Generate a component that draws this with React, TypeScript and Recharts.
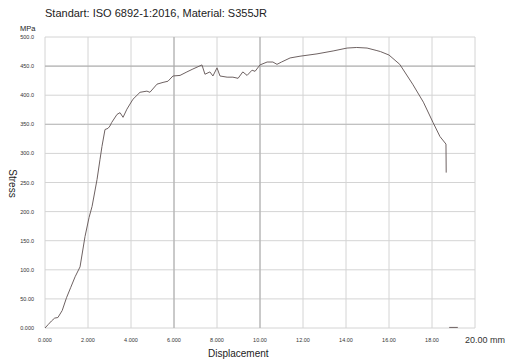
import { LineChart, Line, XAxis, YAxis, CartesianGrid, ReferenceLine } from 'recharts';

// displacement (mm) and stress (MPa)
const displacement = [
  0, 0.15, 0.3, 0.45, 0.6, 0.8, 1.0, 1.2, 1.4, 1.63, 1.86, 2.05, 2.19, 2.42, 2.56, 2.65, 2.79, 2.93,
  3.02, 3.1, 3.35, 3.49, 3.63, 3.81, 4.09, 4.42, 4.74, 4.88, 5.21, 5.49, 5.72, 5.95, 6.28,
  6.6, 6.88, 7.3, 7.44, 7.67, 7.81, 8.0, 8.14, 8.47, 8.74, 8.98, 9.2, 9.4, 9.63, 9.77,
  10.0, 10.33, 10.6, 10.79, 11.0, 11.4, 11.86, 12.65, 13.4, 14.05, 14.5, 14.98, 15.4, 15.6,
  16.0, 16.5, 17.1, 17.6, 18.05, 18.37, 18.65, 18.66, 18.7, 18.8, 19.2,
];
const stress: (number | null)[] = [
  0, 6, 12, 17, 18, 30, 52, 70, 88, 105, 157, 190, 209, 255, 290, 312, 341, 343,
  347, 353, 367, 370, 362, 376, 393, 405, 407, 405, 419, 422, 424, 433, 434,
  440, 445, 452, 436, 440, 433, 447, 433, 431, 431, 429, 440, 434, 443, 441,
  452, 457, 457, 453, 457, 464, 467, 471, 476, 481, 482, 481, 477, 475,
  469, 453, 419, 388, 353, 329, 316, 267, null, 1, 1,
];

const xTicks = [0, 2, 4, 6, 8, 10, 12, 14, 16, 18, 20];
const xLabels = ['0.000', '2.000', '4.000', '6.000', '8.000', '10.00', '12.00', '14.00', '16.00', '18.00', '20.00 mm'];
const yTicks = [0, 50, 100, 150, 200, 250, 300, 350, 400, 450, 500];
const yLabels = ['0.000', '50.00', '100.0', '150.0', '200.0', '250.0', '300.0', '350.0', '400.0', '450.0', '500.0'];

const data = displacement.map((d, i) => ({ x: d, y: stress[i] }));

const font = 'Liberation Sans, Arial, sans-serif';

const XTick = ({ x, y, payload }: any) => {
  const i = xTicks.indexOf(payload.value);
  const last = i === xTicks.length - 1;
  return (
    <text
      x={last ? x - 10 : x}
      y={last ? y + 7 : y + 6}
      textAnchor={last ? 'start' : 'middle'}
      fontSize={last ? 9 : 5.5}
      fill="#333"
      fontFamily={font}
    >
      {xLabels[i]}
    </text>
  );
};

const YTick = ({ x, y, payload }: any) => {
  const i = yTicks.indexOf(payload.value);
  return (
    <text x={x} y={y + 2} textAnchor="end" fontSize={5.5} fill="#333" fontFamily={font}>
      {yLabels[i]}
    </text>
  );
};

export default function App() {
  return (
    <div style={{ position: 'absolute', left: 0, top: 0, width: 505, height: 364, background: '#fff', fontFamily: font }}>
      <div style={{ position: 'absolute', left: 45, top: 7, fontSize: 11, color: '#222' }}>
        Standart: ISO 6892-1:2016, Material: S355JR
      </div>
      <div style={{ position: 'absolute', left: 20, top: 24, fontSize: 7.5, color: '#222' }}>MPa</div>
      <div
        style={{
          position: 'absolute',
          left: -8,
          top: 178,
          width: 40,
          textAlign: 'center',
          fontSize: 10,
          color: '#222',
          transform: 'rotate(90deg)',
        }}
      >
        Stress
      </div>
      <div style={{ position: 'absolute', left: 208, top: 348, fontSize: 10, color: '#222' }}>Displacement</div>
      <LineChart width={505} height={364} data={data} margin={{ top: 37, right: 30, bottom: 0, left: 0 }}>
        <CartesianGrid stroke="#d4d4d4" strokeWidth={1} />
        <XAxis
          dataKey="x"
          type="number"
          domain={[0, 20]}
          ticks={xTicks}
          tick={<XTick />}
          tickLine={false}
          axisLine={false}
          height={36}
        />
        <YAxis
          type="number"
          domain={[0, 500]}
          ticks={yTicks}
          tick={<YTick />}
          tickLine={false}
          axisLine={false}
          width={45}
          tickMargin={5}
        />
        <ReferenceLine x={6} stroke="#aaa" />
        <ReferenceLine x={10} stroke="#aaa" />
        <ReferenceLine y={450} stroke="#aaa" />
        <ReferenceLine y={350} stroke="#bbb" />
        <Line
          dataKey="y"
          type="linear"
          stroke="#6e6262"
          strokeWidth={1}
          dot={false}
          isAnimationActive={false}
          connectNulls={false}
        />
      </LineChart>
    </div>
  );
}
